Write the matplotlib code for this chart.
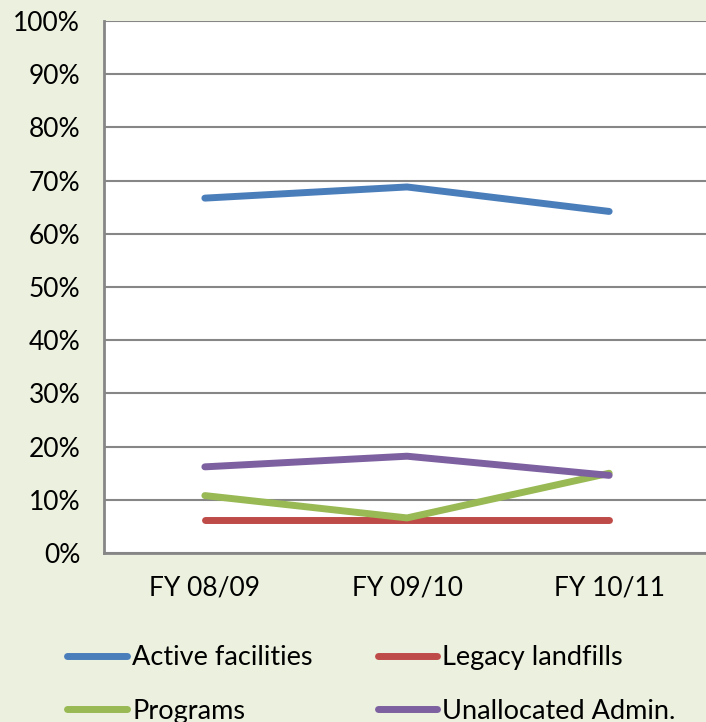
import matplotlib
matplotlib.use("Agg")
import matplotlib.pyplot as plt
from matplotlib.ticker import PercentFormatter

# data
years = ["FY 08/09", "FY 09/10", "FY 10/11"]
active = [66.7, 68.8, 64.2]
legacy = [6.2, 6.2, 6.2]
programs = [10.8, 6.6, 15.0]
unallocated = [16.2, 18.2, 14.6]

series = [
    ("Active facilities", active, "#4A7EBB"),
    ("Legacy landfills", legacy, "#BE4B48"),
    ("Programs", programs, "#98B954"),
    ("Unallocated Admin.", unallocated, "#7D60A0"),
]

plt.rcParams['font.family'] = ['Lato', 'DejaVu Sans']

fig = plt.figure(figsize=(7.06, 7.22), dpi=100, facecolor="#EBF1DE")
ax = fig.add_axes([0.147, 0.234, 0.859, 0.737])
ax.set_facecolor("white")

x = list(range(len(years)))
handles = []
for name, vals, col in series:
    h, = ax.plot(x, vals, color=col, lw=5, solid_capstyle="round",
                 solid_joinstyle="round", label=name, zorder=3)
    handles.append(h)

ax.set_xlim(-0.5, 2.5)
ax.set_ylim(0, 100)
ax.set_yticks(range(0, 101, 10))
ax.yaxis.set_major_formatter(PercentFormatter(decimals=0))
ax.set_xticks(x)
ax.set_xticklabels(years)
ax.grid(axis="y", color="#868686", lw=1.5, zorder=1)
ax.tick_params(length=0, labelsize=19, colors="black")
ax.tick_params(axis="y", pad=17)
ax.tick_params(axis="x", pad=16)
for s in ["top", "right"]:
    ax.spines[s].set_visible(False)
for s in ["left", "bottom"]:
    ax.spines[s].set_color("#868686")
    ax.spines[s].set_linewidth(2)

# legend is filled row by row in the reference
order = [handles[0], handles[2], handles[1], handles[3]]
fig.legend(handles=order, ncol=2, loc="upper left", bbox_to_anchor=(0.061, 0.14),
           frameon=False, fontsize=19.5, handlelength=2.2, handletextpad=0.19,
           columnspacing=2.4, labelspacing=1.05)

fig.savefig("out.png", dpi=100, facecolor=fig.get_facecolor())
